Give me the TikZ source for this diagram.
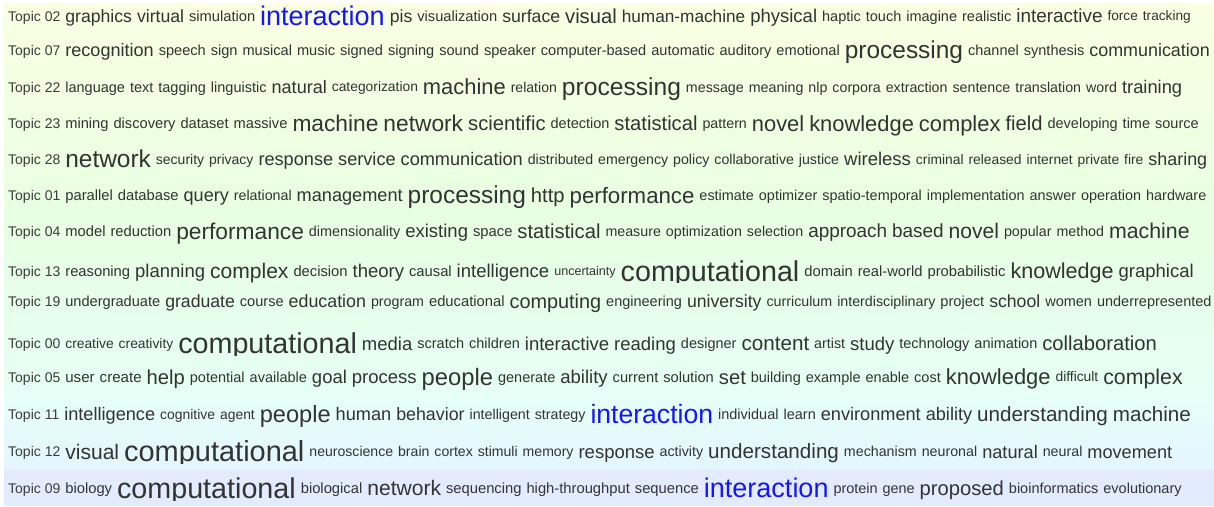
\documentclass[tikz,border=0pt]{standalone}
\usepackage{fontspec}
\setmainfont{Liberation Sans}
\definecolor{txt}{HTML}{333333}
\definecolor{lbl}{HTML}{3C3C3C}
\definecolor{blu}{HTML}{1414FF}
\definecolor{bgA}{HTML}{FAFFE2}
\definecolor{bgB}{HTML}{E9FFE2}
\definecolor{bgC}{HTML}{E6FFEC}
\definecolor{bgD}{HTML}{E6FFF8}
\definecolor{bgE}{HTML}{E4F5FF}
\definecolor{bgF}{HTML}{E3ECFF}
\newcommand\sz[1]{\fontsize{\fpeval{#1+(27-#1)*0.15}}{20}\selectfont}
\newcommand\lowr[1]{\fpeval{-0.3465*(#1+(27-#1)*0.15-14)}pt}
\newcommand\W[2]{\raisebox{\lowr{#1}}{\sz{#1}#2}\hspace{5pt}\ignorespaces}
\newcommand\Bl[2]{\raisebox{\lowr{#1}}{\color{blu}\sz{#1}#2}\hspace{5pt}\ignorespaces}
\newcommand\T[1]{{\color{lbl}\fontsize{14}{14}\selectfont Topic #1}\hspace{5pt}\ignorespaces}
\tikzset{rowtext/.style={anchor=base west,inner sep=0pt,text=txt,font=\fontsize{13}{13}\selectfont}}
\begin{document}
\begin{tikzpicture}[x=1pt,y=-1pt]
\useasboundingbox (0,0) rectangle (1214,506);
\fill[white] (0,0) rectangle (1214,506);
\shade[top color=bgA,bottom color=bgB,draw=none] (4,3) rectangle (1214,200.5);
\shade[top color=bgB,bottom color=bgC,draw=none] (4,200) rectangle (1214,320.5);
\shade[top color=bgC,bottom color=bgD,draw=none] (4,320) rectangle (1214,400.5);
\shade[top color=bgD,bottom color=bgE,draw=none] (4,400) rectangle (1214,470.5);
\fill[bgF] (4,470) rectangle (1214,506);

\node[rowtext] (r02) at (8,21) {\T{02}\W{16}{graphics}\W{16}{virtual}\W{12.5}{simulation}\Bl{27}{interaction}\W{16}{pis}\W{12.5}{visualization}\W{16}{surface}\W{19}{visual}\W{15.5}{human-machine}\W{17}{physical}\W{12.3}{haptic}\W{12.3}{touch}\W{12.3}{imagine}\W{12.3}{realistic}\W{17.5}{interactive}\W{11.3}{force}\W{11.3}{tracking}};

\node[rowtext] (r07) at (8,55) {\T{07}\W{16.5}{recognition}\W{12.4}{speech}\W{12.4}{sign}\W{12.4}{musical}\W{12.4}{music}\W{12.4}{signed}\W{12.4}{signing}\W{12.4}{sound}\W{12.4}{speaker}\W{12.4}{computer-based}\W{12.4}{automatic}\W{12.4}{auditory}\W{12.4}{emotional}\W{24}{processing}\W{12.3}{channel}\W{12.3}{synthesis}\W{16.3}{communication}};

\node[rowtext] (r22) at (8,92) {\T{22}\W{12.3}{language}\W{12.3}{text}\W{12.3}{tagging}\W{12.3}{linguistic}\W{16.5}{natural}\W{11.5}{categorization}\W{21}{machine}\W{11.8}{relation}\W{24.2}{processing}\W{12}{message}\W{12}{meaning}\W{12}{nlp}\W{12}{corpora}\W{12}{extraction}\W{12}{sentence}\W{12}{translation}\W{12}{word}\W{16.8}{training}};

\node[rowtext] (r23) at (8,128.3) {\T{23}\W{12.5}{mining}\W{12.5}{discovery}\W{12.5}{dataset}\W{12.5}{massive}\W{22}{machine}\W{22}{network}\W{19}{scientific}\W{12.3}{detection}\W{19}{statistical}\W{12}{pattern}\W{21}{novel}\W{21}{knowledge}\W{21}{complex}\W{19}{field}\W{12.3}{developing}\W{12.3}{time}\W{12.3}{source}};

\node[rowtext] (r28) at (8,164.3) {\T{28}\W{24}{network}\W{11.7}{security}\W{11.7}{privacy}\W{16.6}{response}\W{16.6}{service}\W{16.6}{communication}\W{11.9}{distributed}\W{11.9}{emergency}\W{11.9}{policy}\W{11.9}{collaborative}\W{11.9}{justice}\W{17}{wireless}\W{11.5}{criminal}\W{11.5}{released}\W{11.5}{internet}\W{11.5}{private}\W{11.5}{fire}\W{16.3}{sharing}};

\node[rowtext] (r01) at (8,200.3) {\T{01}\W{12.6}{parallel}\W{12.6}{database}\W{16.5}{query}\W{12}{relational}\W{16.6}{management}\W{24}{processing}\W{19}{http}\W{21.4}{performance}\W{12.2}{estimate}\W{12.2}{optimizer}\W{12.2}{spatio-temporal}\W{12.2}{implementation}\W{12.2}{answer}\W{12.2}{operation}\W{12.2}{hardware}};

\node[rowtext] (r04) at (8,236) {\T{04}\W{12.6}{model}\W{12.6}{reduction}\W{22}{performance}\W{12.2}{dimensionality}\W{17}{existing}\W{12.6}{space}\W{19}{statistical}\W{12}{measure}\W{12}{optimization}\W{12}{selection}\W{17.5}{approach}\W{17.5}{based}\W{20}{novel}\W{12}{popular}\W{12}{method}\W{20.3}{machine}};

\begin{scope}
\clip (0,255) rectangle (1214,282.5);
\node[rowtext] (r13) at (8,276) {\T{13}\W{12.6}{reasoning}\W{17}{planning}\W{20}{complex}\W{12.6}{decision}\W{17}{theory}\W{12.6}{causal}\W{17}{intelligence}\W{10}{uncertainty}\W{29}{computational}\W{12.6}{domain}\W{12.6}{real-world}\W{12.6}{probabilistic}\W{20.6}{knowledge}\W{17}{graphical}};
\end{scope}

\node[rowtext] (r19) at (8,306) {\T{19}\W{12.4}{undergraduate}\W{16}{graduate}\W{12.4}{course}\W{16.2}{education}\W{12}{program}\W{12.6}{educational}\W{18.6}{computing}\W{12.3}{engineering}\W{16}{university}\W{12}{curriculum}\W{12}{interdisciplinary}\W{12.4}{project}\W{16}{school}\W{12.3}{women}\W{12.3}{underrepresented}};

\begin{scope}
\clip (0,320) rectangle (1214,355.5);
\node[rowtext] (r00) at (8,348.6) {\T{00}\W{11.5}{creative}\W{11.5}{creativity}\W{29}{computational}\W{17}{media}\W{12.3}{scratch}\W{12.3}{children}\W{17}{interactive}\W{17}{reading}\W{12.3}{designer}\W{19.5}{content}\W{12}{artist}\W{17}{study}\W{12.3}{technology}\W{12.3}{animation}\W{19}{collaboration}};
\end{scope}

\node[rowtext] (r05) at (8,382) {\T{05}\W{13}{user}\W{13}{create}\W{19}{help}\W{12.3}{potential}\W{12.3}{available}\W{17}{goal}\W{17}{process}\W{23.2}{people}\W{12.3}{generate}\W{17}{ability}\W{12.5}{current}\W{12.5}{solution}\W{19}{set}\W{12.3}{building}\W{12.3}{example}\W{12.3}{enable}\W{12.3}{cost}\W{21}{knowledge}\W{11.5}{difficult}\W{20.3}{complex}};

\node[rowtext] (r11) at (8,419.3) {\T{11}\W{16.6}{intelligence}\W{11.6}{cognitive}\W{11.6}{agent}\W{23}{people}\W{16.6}{human}\W{16.2}{behavior}\W{12}{intelligent}\W{12}{strategy}\Bl{26.5}{interaction}\W{12.3}{individual}\W{12.3}{learn}\W{16.6}{environment}\W{16.6}{ability}\W{19.5}{understanding}\W{19.5}{machine}};

\begin{scope}
\clip (0,436) rectangle (1214,463.5);
\node[rowtext] (r12) at (8,456.6) {\T{12}\W{20}{visual}\W{29.3}{computational}\W{11.8}{neuroscience}\W{11.8}{brain}\W{11.8}{cortex}\W{11.8}{stimuli}\W{11.8}{memory}\W{17}{response}\W{12}{activity}\W{19.5}{understanding}\W{12}{mechanism}\W{12}{neuronal}\W{16.6}{natural}\W{12}{neural}\W{16.6}{movement}};
\end{scope}

\begin{scope}
\clip (0,471) rectangle (1214,500);
\node[rowtext] (r09) at (8,493.3) {\T{09}\W{12.6}{biology}\W{29}{computational}\W{12.6}{biological}\W{20}{network}\W{12.6}{sequencing}\W{12.6}{high-throughput}\W{12.6}{sequence}\Bl{27}{interaction}\W{12.2}{protein}\W{12.2}{gene}\W{19}{proposed}\W{12.3}{bioinformatics}\W{12.3}{evolutionary}};
\end{scope}
\end{tikzpicture}
\end{document}
